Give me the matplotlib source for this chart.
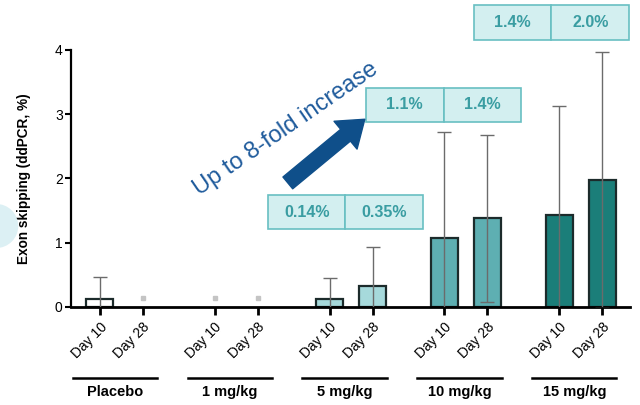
import matplotlib
matplotlib.use("Agg")
from matplotlib import pyplot as plt
from matplotlib.patches import Rectangle, Ellipse
from matplotlib.transforms import blended_transform_factory

plt.rcParams['font.family'] = ['Liberation Sans', 'DejaVu Sans']

# data
groups = ['Placebo', '1 mg/kg', '5 mg/kg', '10 mg/kg', '15 mg/kg']
days = ['Day 10', 'Day 28']
means = [[0.12, None], [None, None], [0.12, 0.33], [1.07, 1.38], [1.43, 1.98]]
sds = [[0.34, None], [None, None], [0.33, 0.60], [1.65, 1.30], [1.70, 1.99]]
empty_marks = [[False, True], [True, True], [False, False], [False, False], [False, False]]
box_labels = {2: ['0.14%', '0.35%'], 3: ['1.1%', '1.4%'], 4: ['1.4%', '2.0%']}

fills = ['white', 'white', '#a6d9db', '#5eafb2', '#1b7e79']
group_step = 2.67
bar_w = 0.63

fig = plt.figure(figsize=(6.4, 4.05), dpi=100)
fig.patches.append(Ellipse((-0.006, 0.442), 0.069, 0.109, transform=fig.transFigure,
                           facecolor='#dcf0f4', edgecolor='none', zorder=0))
ax = fig.add_axes([0.111, 0.242, 0.873, 0.635])

xs = []
xlabels = []
for g in range(len(groups)):
    for d in range(2):
        x = g * group_step + d
        xs.append(x)
        xlabels.append(days[d])
        m = means[g][d]
        if m is not None:
            ax.bar(x, m, width=bar_w, color=fills[g], edgecolor='#1c2b2b',
                   linewidth=1.6, zorder=2)
            ax.errorbar(x, m, yerr=sds[g][d], fmt='none', ecolor='#6b6b6b',
                        elinewidth=1.0, capsize=5, capthick=1.0, zorder=3)
        elif empty_marks[g][d]:
            ax.plot(x, 0.14, 's', color='#c4c4c4', markersize=2.5, zorder=3)

ax.set_xlim(-0.67, 12.32)
ax.set_ylim(0, 4)
ax.set_yticks([0, 1, 2, 3, 4])
ax.set_xticks(xs)
ax.set_xticklabels(xlabels, rotation=45, ha='right', rotation_mode='anchor',
                   fontsize=10)
ax.tick_params(axis='x', length=6, width=2, pad=3)
ax.tick_params(axis='y', length=4, width=1.5, labelsize=10, pad=2)
for s in ['top', 'right']:
    ax.spines[s].set_visible(False)
ax.spines['left'].set_linewidth(1.6)
ax.spines['bottom'].set_linewidth(2)
ax.set_ylabel('Exon skipping (ddPCR, %)', fontsize=9.8, fontweight='bold', labelpad=17)

# group labels under the axis
trans = blended_transform_factory(ax.transData, ax.transAxes)
for g, name in enumerate(groups):
    c = g * group_step + 0.5 - 0.15
    ax.plot([c - 0.98, c + 0.98], [-0.276, -0.276], color='black', lw=1.8,
            transform=trans, clip_on=False)
    ax.text(c, -0.33, name, transform=trans, ha='center', va='center',
            fontsize=10.5, fontweight='bold')

# value boxes
box_pos = {2: (3.91, 1.21), 3: (6.19, 2.88), 4: (8.70, 4.16)}
box_w, box_h = 3.6, 0.53
for g, labs in box_labels.items():
    x0, y0 = box_pos[g]
    for i, lab in enumerate(labs):
        r = Rectangle((x0 + i * box_w / 2, y0), box_w / 2, box_h,
                      facecolor='#d3eff0', edgecolor='#68bfc2', lw=1.2,
                      clip_on=False, zorder=4)
        ax.add_patch(r)
        ax.text(x0 + (i + 0.5) * box_w / 2, y0 + box_h / 2, lab, ha='center',
                va='center', fontsize=11.5, fontweight='bold', color='#3a9da2',
                zorder=5)

# arrow and text
ax.annotate('', xy=(6.16, 2.92), xytext=(4.37, 1.93),
            arrowprops=dict(arrowstyle='simple,head_width=1.3,head_length=0.9,tail_width=0.55',
                            mutation_scale=20, color='#0f4f8a', shrinkA=0, shrinkB=0),
            zorder=4, annotation_clip=False)
ax.text(4.33, 2.77, 'Up to 8-fold increase', rotation=34.5, ha='center',
        va='center', fontsize=17, color='#1f5b9c', zorder=5)

fig.savefig('out.png', dpi=100)
